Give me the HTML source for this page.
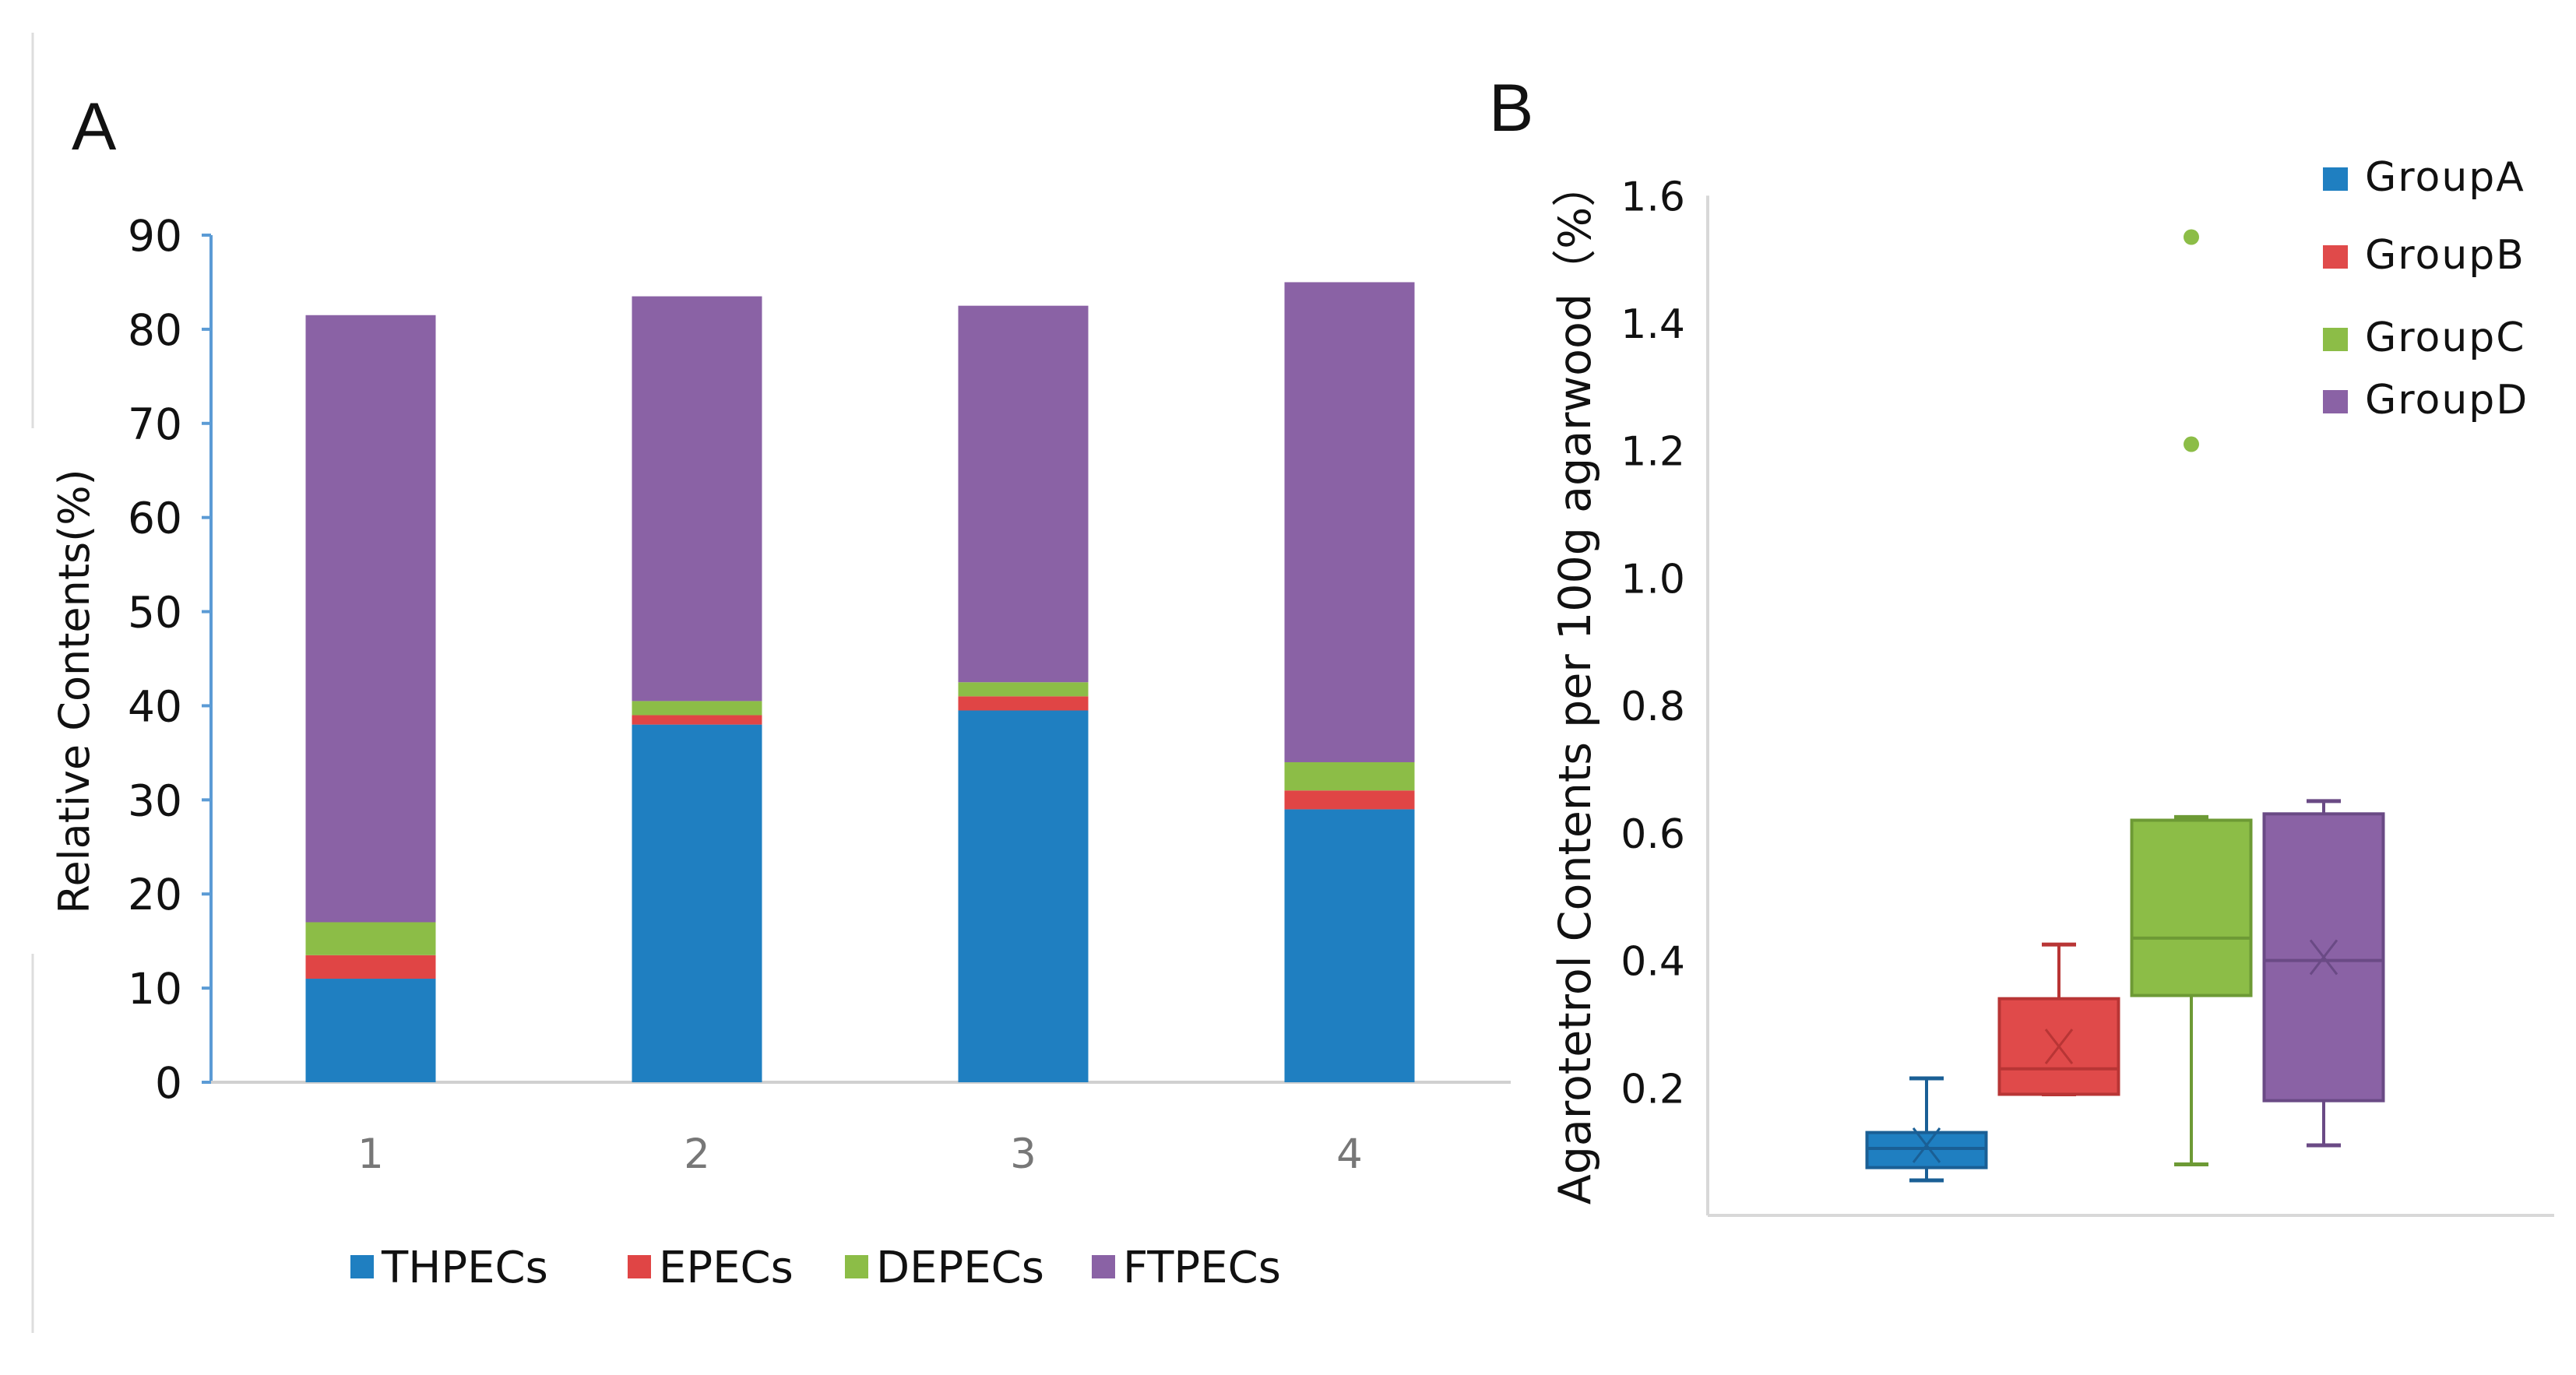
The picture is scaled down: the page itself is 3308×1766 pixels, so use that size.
<!DOCTYPE html>
<html><head><meta charset="utf-8"><style>
html,body{margin:0;padding:0;background:#fff;}
svg{display:block;font-family:"DejaVu Sans","Liberation Sans",sans-serif;}
</style></head><body>
<svg id="fig" width="3308" height="1766" viewBox="0 0 3308 1766" xmlns="http://www.w3.org/2000/svg">
<line x1="42" y1="42" x2="42" y2="550" stroke="#ddd" stroke-width="3"/>
<line x1="42" y1="1225" x2="42" y2="1712" stroke="#ddd" stroke-width="3"/>
<text x="92" y="192" font-size="86" fill="#111" font-family="Liberation Sans, sans-serif">A</text>
<text x="1912" y="168" font-size="86" fill="#111" font-family="Liberation Sans, sans-serif">B</text>
<g id="chartA"></g>
<g id="chartB"></g>
</svg>
<script>
const NS="http://www.w3.org/2000/svg";
const catsA=["1","2","3","4"];
const seriesNames=["THPECs","EPECs","DEPECs","FTPECs"];
const thpecs=[11,38,39.5,29];
const epecs=[2.5,1,1.5,2];
const depecs=[3.5,1.5,1.5,3];
const ftpecs=[64.5,43,40,51];
const ticksA=[0,10,20,30,40,50,60,70,80,90];
const colorsA=["#1f7fc1","#e04545","#8cbd47","#8a62a5"];

function mk(tag,attrs,parent){const e=document.createElementNS(NS,tag);for(const k in attrs)e.setAttribute(k,attrs[k]);parent.appendChild(e);return e;}

const gA=document.getElementById('chartA');
const yA=v=>1390-v*(1088/90);
const xA=i=>476+i*419;
const bwA=167;
mk('line',{x1:271,y1:yA(90),x2:271,y2:yA(0),stroke:'#5b9bd5','stroke-width':4},gA);
mk('line',{x1:271,y1:yA(0),x2:1940,y2:yA(0),stroke:'#d0d0d0','stroke-width':4},gA);
ticksA.forEach(t=>{
  const l=mk('line',{x1:259,y1:yA(t),x2:271,y2:yA(t),stroke:'#5b9bd5','stroke-width':4},gA);
  
  const tx=mk('text',{x:234,y:yA(t)+20,'font-size':55,'text-anchor':'end',fill:'#111'},gA);
  tx.textContent=t;
  
});
const yt=mk('text',{x:0,y:0,'font-size':54,'text-anchor':'middle',fill:'#111',transform:'translate(114,888) rotate(-90)'},gA);
yt.textContent="Relative Contents(%)";

const allSeries=[thpecs,epecs,depecs,ftpecs];
catsA.forEach((c,i)=>{
  let base=0;
  allSeries.forEach((s,k)=>{
    const r=mk('rect',{x:xA(i)-bwA/2,y:yA(base+s[i]),width:bwA,height:yA(base)-yA(base+s[i]),fill:colorsA[k]},gA);
    
    base+=s[i];
  });
  const lt=mk('text',{x:xA(i),y:1500,'font-size':53,'text-anchor':'middle',fill:'#777'},gA);
  lt.textContent=c;
  
});
const legX=[450,806,1085,1402];
seriesNames.forEach((n,k)=>{
  const r=mk('rect',{x:legX[k],y:1612,width:30,height:30,fill:colorsA[k]},gA);
  
  const t=mk('text',{x:legX[k]+40,y:1647,'font-size':56,fill:'#111'},gA);
  t.textContent=n;
  
});

// Chart B
const groups=["GroupA","GroupB","GroupC","GroupD"];
const q1=[0.075,0.19,0.345,0.18];
const q3=[0.13,0.34,0.62,0.63];
const med=[0.105,0.23,0.435,0.4];
const mean=[0.11,0.265,null,0.405];
const wlo=[0.055,0.19,0.08,0.11];
const whi=[0.215,0.425,0.625,0.65];
const outliersC=[1.535,1.21];
const ticksB=[0.2,0.4,0.6,0.8,1.0,1.2,1.4,1.6];
const colorsB=["#1f7fc1","#e04a4a","#8cbd47","#8a62a5"];
const strokeB=["#1a5f95","#b83535","#6d9a35","#6a4a85"];
const gB=document.getElementById('chartB');
const yB=v=>1561-v*(1146/1.4);
const xB=i=>2474+i*170;
const bwB=153;
mk('line',{x1:2193,y1:yB(1.6),x2:2193,y2:yB(0),stroke:'#d8d8d8','stroke-width':4},gB);
mk('line',{x1:2193,y1:yB(0),x2:3280,y2:yB(0),stroke:'#d8d8d8','stroke-width':4},gB);
ticksB.forEach(t=>{
  const tx=mk('text',{x:2164,y:yB(t)+19,'font-size':52,'text-anchor':'end',fill:'#111'},gB);
  tx.textContent=t.toFixed(1);
  
});
const ytb=mk('text',{x:0,y:0,'font-size':57,'text-anchor':'middle',fill:'#111',transform:'translate(2042,878) rotate(-90)'},gB);
ytb.textContent="Agarotetrol Contents per 100g agarwood（%）";

groups.forEach((g,i)=>{
  const cx=xB(i), c=strokeB[i];
  const w1=mk('line',{x1:cx,y1:yB(whi[i]),x2:cx,y2:yB(q3[i]),stroke:c,'stroke-width':4},gB);
  
  const w2=mk('line',{x1:cx,y1:yB(q1[i]),x2:cx,y2:yB(wlo[i]),stroke:c,'stroke-width':4},gB);
  
  [whi[i],wlo[i]].forEach(v=>{
    const cap=mk('line',{x1:cx-22,y1:yB(v),x2:cx+22,y2:yB(v),stroke:c,'stroke-width':5},gB);
    
  });
  const b=mk('rect',{x:cx-bwB/2,y:yB(q3[i]),width:bwB,height:yB(q1[i])-yB(q3[i]),fill:colorsB[i],stroke:c,'stroke-width':4},gB);
  
  const m=mk('line',{x1:cx-bwB/2,y1:yB(med[i]),x2:cx+bwB/2,y2:yB(med[i]),stroke:c,'stroke-width':4},gB);
  
  if(mean[i]!==null){
    const my=yB(mean[i]);
    const x1=mk('path',{d:`M${cx-17} ${my-22}L${cx+17} ${my+22}M${cx+17} ${my-22}L${cx-17} ${my+22}`,stroke:c,'stroke-width':3,fill:'none'},gB);
    
  }
});
outliersC.forEach(v=>{
  const o=mk('circle',{cx:xB(2),cy:yB(v),r:10,fill:colorsB[2]},gB);
  
});
const legY=[245,345,451,531];
groups.forEach((g,k)=>{
  const r=mk('rect',{x:2983,y:legY[k]-30,width:32,height:30,fill:colorsB[k]},gB);
  
  const t=mk('text',{x:3037,y:legY[k],'font-size':52,fill:'#111','letter-spacing':'2'},gB);
  t.textContent=g;
  
});
</script>
</body></html>
